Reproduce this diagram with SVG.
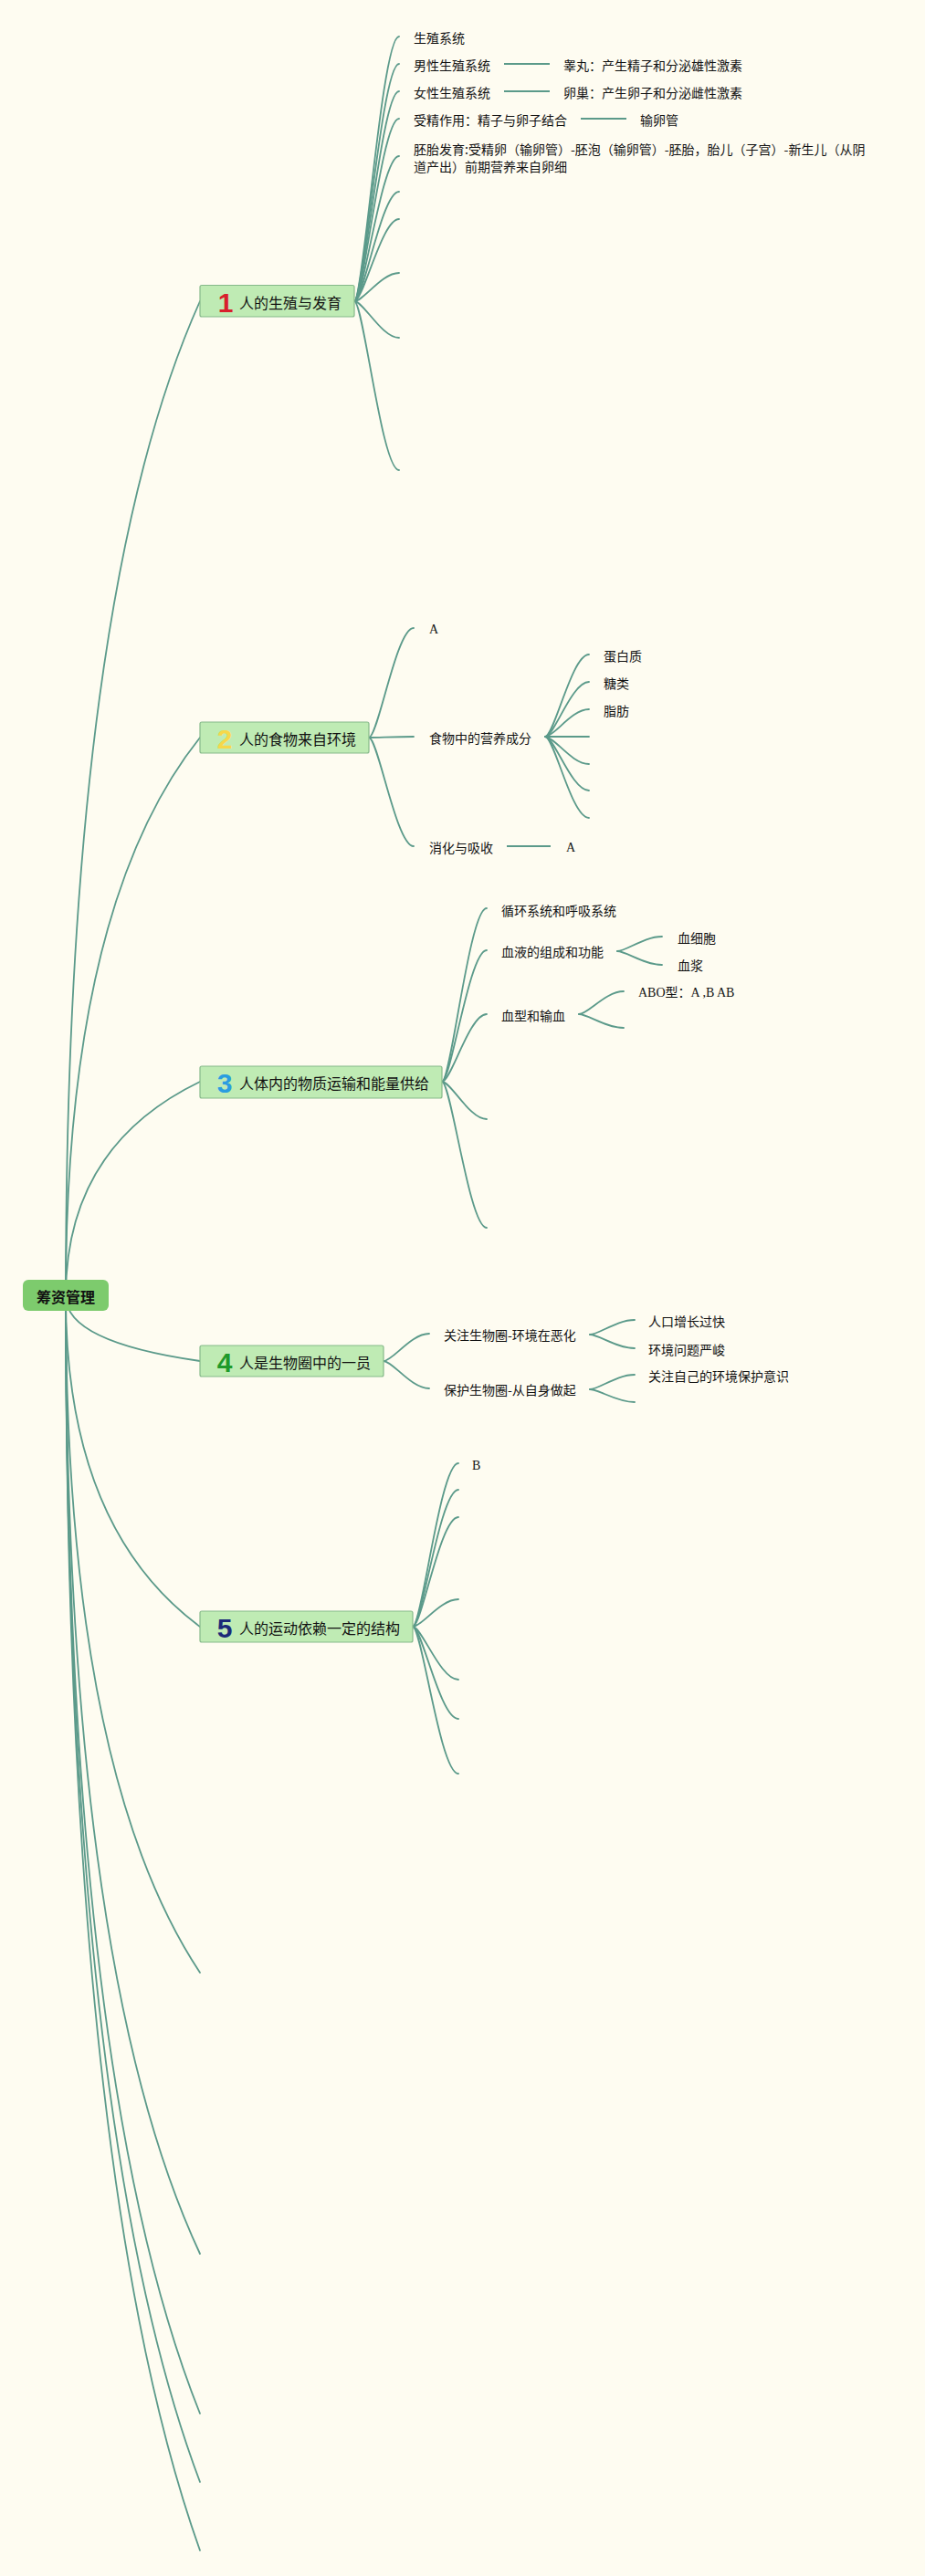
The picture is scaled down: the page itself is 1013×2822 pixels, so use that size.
<svg xmlns="http://www.w3.org/2000/svg" width="1013" height="2822" viewBox="0 0 1013 2822">
<style>
.bg{fill:#fefcf1}
.c{fill:none;stroke:#5b9a8a;stroke-width:1.8;stroke-linecap:round}
.s{fill:none;stroke:#5b9a8a;stroke-width:2.2}
.root{fill:#7dcb6d}
.topic{fill:#bfebb4;stroke:#86b98a;stroke-width:1.2}
.rt{font-family:"Noto Sans CJK SC",sans-serif;font-size:16px;font-weight:bold;fill:#111}
.tt{font-family:"Noto Sans CJK SC",sans-serif;font-size:16px;fill:#111}
.n{font-family:"Liberation Sans",sans-serif;font-size:30px;font-weight:bold}
.t{font-family:"Noto Sans CJK SC",sans-serif;font-size:14px;fill:#111}
.sf{font-family:"Liberation Serif","Noto Sans CJK SC",serif;font-size:14px;fill:#111}
text{dominant-baseline:central}
</style>
<rect class="bg" x="0" y="0" width="1013" height="2822"/>
<g id="connectors">
  <!-- root to topics -->
  <path class="c" d="M72,1420 Q72,657 219,330"/>
  <path class="c" d="M72,1420 Q72,992 219,808"/>
  <path class="c" d="M72,1420 Q72,1256 219,1185"/>
  <path class="c" d="M72,1420 Q72,1470 219,1491"/>
  <path class="c" d="M72,1420 Q72,1673 219,1782"/>
  <path class="c" d="M72,1420 Q72,1939 219,2161"/>
  <path class="c" d="M72,1420 Q72,2154 219,2469"/>
  <path class="c" d="M72,1420 Q72,2277 219,2644"/>
  <path class="c" d="M72,1420 Q72,2329 219,2719"/>
  <path class="c" d="M72,1420 Q72,2382 219,2794"/>
  <!-- topic 1 children -->
  <path class="c" d="M388,330 C398,330 418,40 437,40"/>
  <path class="c" d="M388,330 C398,330 418,70 437,70"/>
  <path class="c" d="M388,330 C398,330 418,100 437,100"/>
  <path class="c" d="M388,330 C398,330 418,130 437,130"/>
  <path class="c" d="M388,330 C398,330 418,171 437,171"/>
  <path class="c" d="M388,330 C398,330 418,210 437,210"/>
  <path class="c" d="M388,330 C398,330 418,240 437,240"/>
  <path class="c" d="M388,330 C398,330 418,299 437,299"/>
  <path class="c" d="M388,330 C398,330 418,370 437,370"/>
  <path class="c" d="M388,330 C398,330 418,515 437,515"/>
  <path class="s" d="M552,70 H602"/>
  <path class="s" d="M552,100 H602"/>
  <path class="s" d="M636,130 H686"/>
  <!-- topic 2 children -->
  <path class="c" d="M404,808 C414,808 434,688 453,688"/>
  <path class="c" d="M404,808 C414,808 434,807 453,807"/>
  <path class="c" d="M404,808 C414,808 434,927 453,927"/>
  <path class="s" d="M555,927 H603"/>
  <path class="c" d="M597,807 C607,807 626,717 645,717"/>
  <path class="c" d="M597,807 C607,807 626,747 645,747"/>
  <path class="c" d="M597,807 C607,807 626,777 645,777"/>
  <path class="c" d="M597,807 C607,807 626,807 645,807"/>
  <path class="c" d="M597,807 C607,807 626,837 645,837"/>
  <path class="c" d="M597,807 C607,807 626,866 645,866"/>
  <path class="c" d="M597,807 C607,807 626,896 645,896"/>
  <!-- topic 3 children -->
  <path class="c" d="M484,1185 C494,1185 514,995 533,995"/>
  <path class="c" d="M484,1185 C494,1185 514,1041 533,1041"/>
  <path class="c" d="M484,1185 C494,1185 514,1111 533,1111"/>
  <path class="c" d="M484,1185 C494,1185 514,1226 533,1226"/>
  <path class="c" d="M484,1185 C494,1185 514,1345 533,1345"/>
  <path class="c" d="M676,1042 C686,1042 705,1026 725,1026"/>
  <path class="c" d="M676,1042 C686,1042 705,1057 725,1057"/>
  <path class="c" d="M634,1111 C644,1111 663,1086 683,1086"/>
  <path class="c" d="M634,1111 C644,1111 663,1126 683,1126"/>
  <!-- topic 4 children -->
  <path class="c" d="M420,1491 C430,1491 450,1461 470,1461"/>
  <path class="c" d="M420,1491 C430,1491 450,1521 470,1521"/>
  <path class="c" d="M646,1462 C656,1462 675,1446 695,1446"/>
  <path class="c" d="M646,1462 C656,1462 675,1477 695,1477"/>
  <path class="c" d="M646,1522 C656,1522 675,1506 695,1506"/>
  <path class="c" d="M646,1522 C656,1522 675,1536 695,1536"/>
  <!-- topic 5 children -->
  <path class="c" d="M452,1782 C462,1782 482,1603 502,1603"/>
  <path class="c" d="M452,1782 C462,1782 482,1632 502,1632"/>
  <path class="c" d="M452,1782 C462,1782 482,1662 502,1662"/>
  <path class="c" d="M452,1782 C462,1782 482,1752 502,1752"/>
  <path class="c" d="M452,1782 C462,1782 482,1840 502,1840"/>
  <path class="c" d="M452,1782 C462,1782 482,1883 502,1883"/>
  <path class="c" d="M452,1782 C462,1782 482,1943 502,1943"/>
</g>
<g id="root">
  <rect class="root" x="25" y="1402" width="94" height="34" rx="6"/>
  <text class="rt" x="72" y="1420" text-anchor="middle">筹资管理</text>
</g>
<g id="topic1">
  <rect class="topic" x="219" y="312.5" width="169" height="34.5" rx="2"/>
  <text class="n" x="247" y="331" text-anchor="middle" fill="#d8202c">1</text>
  <text class="tt" x="262" y="331">人的生殖与发育</text>
</g>
<g id="t1c1"><text class="t" x="453" y="41">生殖系统</text></g>
<g id="t1c2"><text class="t" x="453" y="71">男性生殖系统</text></g>
<g id="t1c2a"><text class="t" x="617" y="71">睾丸：产生精子和分泌雄性激素</text></g>
<g id="t1c3"><text class="t" x="453" y="101">女性生殖系统</text></g>
<g id="t1c3a"><text class="t" x="617" y="101">卵巢：产生卵子和分泌雌性激素</text></g>
<g id="t1c4"><text class="t" x="453" y="131">受精作用：精子与卵子结合</text></g>
<g id="t1c4a"><text class="t" x="701" y="131">输卵管</text></g>
<g id="t1c5"><text class="t" x="453" y="163">胚胎发育:受精卵（输卵管）-胚泡（输卵管）-胚胎，胎儿（子宫）-新生儿（从阴</text><text class="t" x="453" y="182">道产出）前期营养来自卵细</text></g>
<g id="topic2">
  <rect class="topic" x="219" y="791" width="185" height="34" rx="2"/>
  <text class="n" x="246" y="809" text-anchor="middle" fill="#f6d84a">2</text>
  <text class="tt" x="262" y="809">人的食物来自环境</text>
</g>
<g id="t2c1"><text class="sf" x="470" y="689">A</text></g>
<g id="t2c2"><text class="t" x="470" y="808">食物中的营养成分</text></g>
<g id="t2c2a"><text class="t" x="661" y="718">蛋白质</text></g>
<g id="t2c2b"><text class="t" x="661" y="748">糖类</text></g>
<g id="t2c2c"><text class="t" x="661" y="778">脂肪</text></g>
<g id="t2c3"><text class="t" x="470" y="928">消化与吸收</text></g>
<g id="t2c3a"><text class="sf" x="620" y="928">A</text></g>
<g id="topic3">
  <rect class="topic" x="219" y="1168" width="265" height="35" rx="2"/>
  <text class="n" x="246" y="1186" text-anchor="middle" fill="#2a9de0">3</text>
  <text class="tt" x="262" y="1186">人体内的物质运输和能量供给</text>
</g>
<g id="t3c1"><text class="t" x="549" y="997">循环系统和呼吸系统</text></g>
<g id="t3c2"><text class="t" x="549" y="1042">血液的组成和功能</text></g>
<g id="t3c2a"><text class="t" x="742" y="1027">血细胞</text></g>
<g id="t3c2b"><text class="t" x="742" y="1057">血浆</text></g>
<g id="t3c3"><text class="t" x="549" y="1112">血型和输血</text></g>
<g id="t3c3a"><text class="sf" x="699" y="1087">ABO型：A ,B AB</text></g>
<g id="topic4">
  <rect class="topic" x="219" y="1474" width="201" height="34" rx="2"/>
  <text class="n" x="246" y="1492" text-anchor="middle" fill="#1f9a2b">4</text>
  <text class="tt" x="262" y="1492">人是生物圈中的一员</text>
</g>
<g id="t4c1"><text class="t" x="486" y="1462">关注生物圈-环境在恶化</text></g>
<g id="t4c1a"><text class="t" x="710" y="1447">人口增长过快</text></g>
<g id="t4c1b"><text class="t" x="710" y="1478">环境问题严峻</text></g>
<g id="t4c2"><text class="t" x="486" y="1522">保护生物圈-从自身做起</text></g>
<g id="t4c2a"><text class="t" x="710" y="1507">关注自己的环境保护意识</text></g>
<g id="topic5">
  <rect class="topic" x="219" y="1765" width="233" height="34" rx="2"/>
  <text class="n" x="246" y="1783" text-anchor="middle" fill="#1b2a78">5</text>
  <text class="tt" x="262" y="1783">人的运动依赖一定的结构</text>
</g>
<g id="t5c1"><text class="sf" x="517" y="1605">B</text></g>
</svg>
